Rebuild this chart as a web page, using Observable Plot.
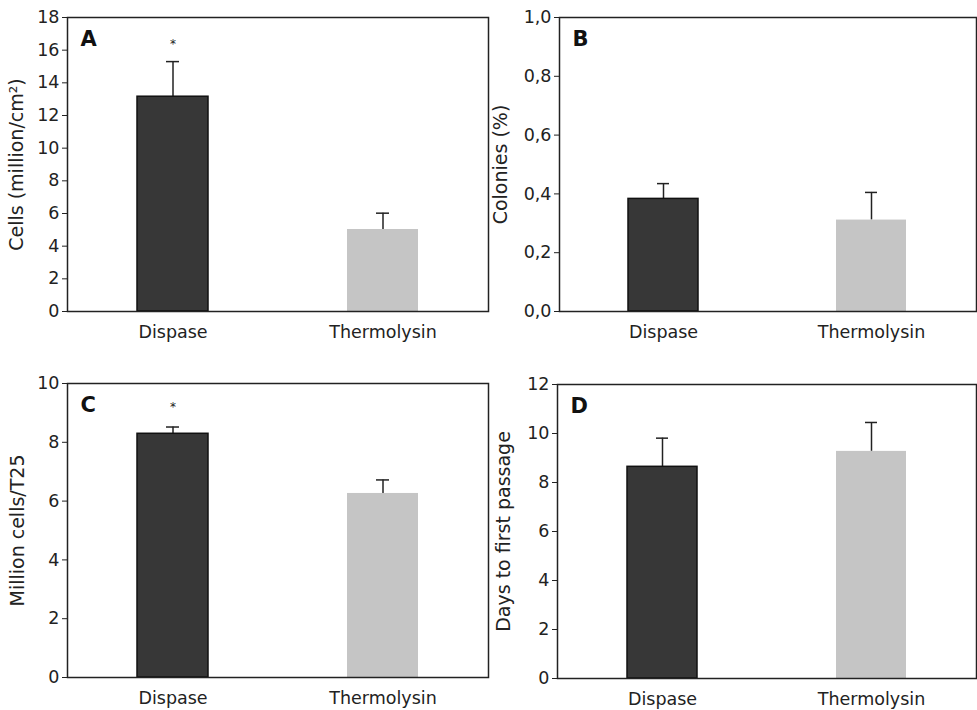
<!DOCTYPE html>
<html><head><meta charset="utf-8">
<script src="https://cdn.jsdelivr.net/npm/d3@7"></script>
<script src="https://cdn.jsdelivr.net/npm/@observablehq/plot@0.6"></script>
<style>
body{margin:0;background:#fff}
#wrap{position:relative;width:977px;height:710px;overflow:hidden;background:#fff}
.p{position:absolute}
</style>
</head><body><div id="wrap"></div>
<script>
const categories = ["Dispase", "Thermolysin"];
const barFills = ["#373737", "#c5c5c5"];
const panelLetters = ["A", "B", "C", "D"];
const yLabels = ["Cells (million/cm²)", "Colonies (%)", "Million cells/T25", "Days to first passage"];

const meansA = [13.15, 5.02];
const errTopA = [15.3, 6.02];
const meansB = [0.383, 0.311];
const errTopB = [0.435, 0.405];
const meansC = [8.29, 6.26];
const errTopC = [8.52, 6.72];
const meansD = [8.64, 9.27];
const errTopD = [9.81, 10.45];

const starA = [16.4, null];
const starB = [null, null];
const starC = [9.22, null];
const starD = [null, null];

const yDomainA = [0, 18], yDomainB = [0, 1], yDomainC = [0, 10], yDomainD = [0, 12];
const yTicksA = [0, 2, 4, 6, 8, 10, 12, 14, 16, 18];
const yTicksB = [0, 0.2, 0.4, 0.6, 0.8, 1.0];
const yTicksC = [0, 2, 4, 6, 8, 10];
const yTicksD = [0, 2, 4, 6, 8, 10, 12];

const panels = [
  {means: meansA, errs: errTopA, stars: starA, domain: yDomainA, ticks: yTicksA, fmt: d => String(d),
   box: {left: 0, top: 0, width: 490, marginLeft: 67, marginRight: 2, labelOffset: 58}},
  {means: meansB, errs: errTopB, stars: starB, domain: yDomainB, ticks: yTicksB, fmt: d => d.toFixed(1).replace(".", ","),
   box: {left: 480, top: 0, width: 497, marginLeft: 79, marginRight: 1, labelOffset: 66}},
  {means: meansC, errs: errTopC, stars: starC, domain: yDomainC, ticks: yTicksC, fmt: d => String(d),
   box: {left: 0, top: 366, width: 490, marginLeft: 67, marginRight: 2, labelOffset: 57}},
  {means: meansD, errs: errTopD, stars: starD, domain: yDomainD, ticks: yTicksD, fmt: d => String(d),
   box: {left: 480, top: 367, width: 497, marginLeft: 77, marginRight: 1, labelOffset: 61}}
];

const wrap = document.getElementById("wrap");
panels.forEach((p, i) => {
  const rows = categories.map((c, j) => ({cat: c, mean: p.means[j], err: p.errs[j], star: p.stars[j], fill: barFills[j]}));
  const stars = rows.filter(r => r.star != null);
  const chart = Plot.plot({
    width: p.box.width,
    height: 350,
    marginLeft: p.box.marginLeft,
    marginRight: p.box.marginRight,
    marginTop: 17,
    marginBottom: 39,
    style: {fontFamily: "DejaVu Sans", fontSize: "17.5px", color: "#222", background: "transparent"},
    x: {domain: categories, paddingInner: 0.663, paddingOuter: 0.3315},
    y: {domain: p.domain},
    marks: [
      Plot.ruleX(rows, {x: "cat", y1: "mean", y2: "err", stroke: "#222", strokeWidth: 1.5}),
      Plot.tickY(rows, {x: "cat", y: "err", stroke: "#222", strokeWidth: 1.5, insetLeft: 29, insetRight: 29}),
      Plot.barY(rows, {x: "cat", y: "mean", fill: "fill", stroke: (d, j) => j === 0 ? "#111" : "none", strokeWidth: 1.5}),
      Plot.text(stars, {x: "cat", y: "star", text: () => "*", fontSize: 12, dy: 1, fill: "#222"}),
      Plot.axisY({ticks: p.ticks, tickFormat: p.fmt, tickSize: 5, tickPadding: 3, label: null, stroke: "#222"}),
      Plot.axisY({ticks: [], tickSize: 0, label: yLabels[i], fontSize: 19,
        labelAnchor: "center", labelArrow: "none", labelOffset: p.box.labelOffset}),
      Plot.axisX({tickSize: 0, tickPadding: 14, label: null}),
      Plot.frame({stroke: "#222", strokeWidth: 1.5}),
      Plot.text([panelLetters[i]], {frameAnchor: "top-left", text: d => d, dx: 13, dy: 22, lineAnchor: "middle",
        textAnchor: "start", fontWeight: "bold", fontSize: 21, fill: "#111"})
    ]
  });
  chart.classList.add("p");
  chart.style.left = p.box.left + "px";
  chart.style.top = p.box.top + "px";
  wrap.appendChild(chart);
});
</script>
</body></html>
